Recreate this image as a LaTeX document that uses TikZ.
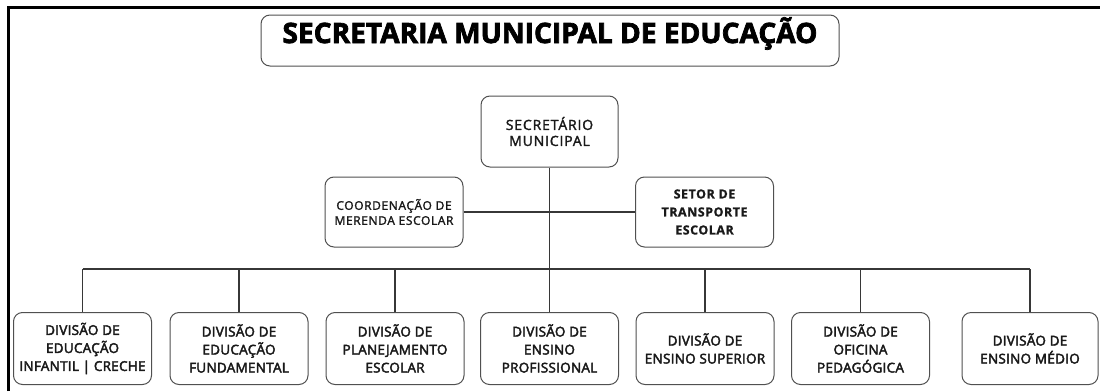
\documentclass[tikz,border=0pt]{standalone}
\usepackage{fontspec}
\setmainfont{Open Sans}
\newfontfamily\titlefont[FakeBold=2.6]{Open Sans}
\newfontfamily\secf[LetterSpace=6,FakeBold=2.0]{Open Sans}
\newfontfamily\coordf[LetterSpace=5,FakeBold=2.0]{Open Sans}
\newfontfamily\setorf[LetterSpace=4,FakeBold=1.0]{Open Sans}
\newfontfamily\divf[LetterSpace=2,FakeBold=3.0]{Open Sans}
\definecolor{textc}{RGB}{25,25,25}
\definecolor{boxgray}{RGB}{80,80,80}
\definecolor{linec}{RGB}{55,55,55}
\newsavebox\titlebox
\newlength\titlew
\begin{document}
\sbox\titlebox{\titlefont\bfseries\fontsize{28}{28}\selectfont SECRETARIA MUNICIPAL DE EDUCAÇÃO}%
\setlength\titlew{\wd\titlebox}%
\begin{tikzpicture}[x=1pt,y=-1pt,
  box/.style={draw=boxgray, line width=1pt, rounded corners=9pt, align=center, inner sep=0pt, text=textc},
  secbox/.style={box, minimum width=137pt, minimum height=71pt, font=\secf\fontsize{14}{16}\selectfont},
  sidebox/.style={box, minimum width=138pt, minimum height=70pt},
  divbox/.style={box, minimum width=138pt, minimum height=72pt, font=\divf\fontsize{13.5}{18}\selectfont},
  conn/.style={draw=linec, line width=1.3pt}]
\useasboundingbox (0,0) rectangle (1100,391);
\pgfmathsetmacro\tsx{535pt/\titlew}
% frame
\draw[line width=2.2pt, black] (8.5,391) -- (8.5,7.5) -- (1100,7.5);
% nodes
\node[box, minimum width=578pt, minimum height=51pt, text height=20pt, text depth=15pt] (title) at (550,40.5) {\scalebox{\tsx}[1]{\usebox\titlebox}};
\node[secbox] (sec) at (549.5,131.5) {SECRETÁRIO\\MUNICIPAL};
\node[sidebox, font=\coordf\fontsize{12}{15}\selectfont] (coord) at (394,212) {COORDENAÇÃO DE\\MERENDA ESCOLAR};
\node[sidebox, font=\setorf\bfseries\fontsize{12.5}{18}\selectfont] (setor) at (704.5,212) {SETOR DE\\TRANSPORTE\\ESCOLAR};
\node[divbox] (b1) at (82.5,348.5) {DIVISÃO DE\\EDUCAÇÃO\\INFANTIL | CRECHE};
\node[divbox] (b2) at (239,348.5) {DIVISÃO DE\\EDUCAÇÃO\\FUNDAMENTAL};
\node[divbox] (b3) at (395,348.5) {DIVISÃO DE\\PLANEJAMENTO\\ESCOLAR};
\node[divbox] (b4) at (549.5,348.5) {DIVISÃO DE\\ENSINO\\PROFISSIONAL};
\node[divbox] (b5) at (705,348.5) {DIVISÃO DE\\ENSINO SUPERIOR};
\node[divbox] (b6) at (860.5,348.5) {DIVISÃO DE\\OFICINA\\PEDAGÓGICA};
\node[divbox, minimum width=136pt] (b7) at (1030,348.5) {DIVISÃO DE\\ENSINO MÉDIO};
% connectors
\coordinate (bus) at (549.5,269);
\draw[conn] (coord.east) -- (setor.west);
\draw[conn] (sec.south) -- (bus);
\draw[conn] (b1.north |- bus) -- (b7.north |- bus);
\foreach \i in {1,...,7} \draw[conn] (b\i.north) -- (b\i.north |- bus);
\end{tikzpicture}
\end{document}
